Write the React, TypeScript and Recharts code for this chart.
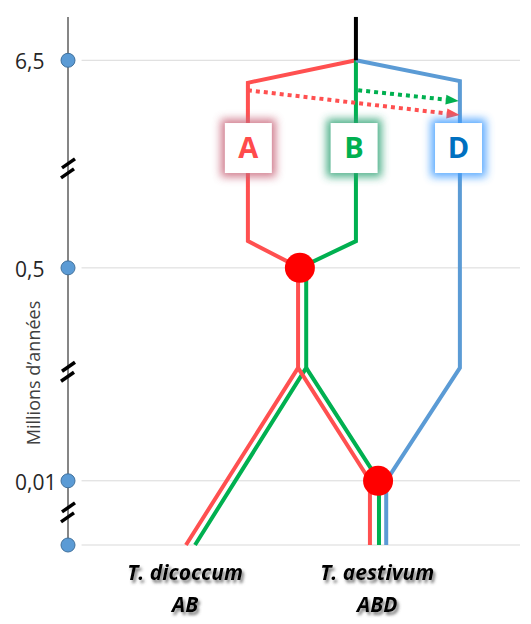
import { ComposedChart, Line, Scatter, XAxis, YAxis } from 'recharts';

// Vertical scale is broken, so ticks sit at drawing positions, not at true ages
const yTicks = [0, 12, 51.8, 90.6];
const yTickLabels = ['', '0,01', '0,5', '6,5'];
const axisBreaks = [70.3, 32.3, 6.0];

// Species at the tips of the tree
const speciesX = [25.9, 68.4];
const speciesNames = ['T. dicoccum', 'T. aestivum'];
const speciesGenomes = ['AB', 'ABD'];

// Branches of the tree (x = horizontal position, y = drawing height)
const rootStem = [
  { x: 63.7, y: 98.7 },
  { x: 63.7, y: 90.6 },
];
const genomeA = [
  { x: 63.7, y: 90.6 },
  { x: 39.8, y: 86.4 },
  { x: 39.8, y: 56.8 },
  { x: 51.3, y: 51.8 },
];
const genomeB = [
  { x: 63.7, y: 90.6 },
  { x: 63.7, y: 56.8 },
  { x: 51.3, y: 51.8 },
];
const genomeD = [
  { x: 63.7, y: 90.6 },
  { x: 86.7, y: 86.7 },
  { x: 86.7, y: 33.1 },
  { x: 70.4, y: 12 },
  { x: 70.4, y: 0 },
];
const tetraADicoccum = [
  { x: 50.9, y: 51.8 },
  { x: 50.9, y: 33.1 },
  { x: 26.1, y: 0 },
];
const tetraBDicoccum = [
  { x: 52.7, y: 51.8 },
  { x: 52.7, y: 33.1 },
  { x: 28.1, y: 0 },
];
const tetraAAestivum = [
  { x: 50.9, y: 33.1 },
  { x: 66.8, y: 12 },
  { x: 66.8, y: 0 },
];
const tetraBAestivum = [
  { x: 52.7, y: 33.1 },
  { x: 68.8, y: 12 },
  { x: 68.8, y: 0 },
];

// Gene transfers towards D (dotted arrows)
const transferA = [
  { x: 39.8, y: 85.0 },
  { x: 83.8, y: 80.65 },
];
const transferB = [
  { x: 64.2, y: 85.0 },
  { x: 83.6, y: 83.25 },
];

// Hybridisation events
const hybridisations = [
  { x: 51.3, y: 51.8 },
  { x: 68.6, y: 12 },
];

// Genome label boxes
const genomeLabels = ['A', 'B', 'D'];
const genomeBoxes = [
  { x: 39.9, y: 74.2 },
  { x: 63.3, y: 74.2 },
  { x: 86.4, y: 74.2 },
];

const axisLine = [
  { x: 0, y: 0 },
  { x: 0, y: 98.7 },
];
const axisDots = yTicks.map((y) => ({ x: 0, y }));
const breakPoints = axisBreaks.map((y) => ({ x: 0, y }));
const gridLines = yTicks.map((y) => [
  { x: 3, y },
  { x: 100, y },
]);

const RED = '#FF5050';
const GREEN = '#00B050';
const BLUE = '#5B9BD5';
const letterColors: Record<string, string> = { A: '#FF4B4B', B: '#00B050', D: '#0070C0' };
const glowColors: Record<string, string> = { A: '#c9687c', B: '#2fa374', D: '#3d9bff' };

const W = 531;
const H = 624;
const PX_X = 452 / 100;
const PX_Y = 535 / 100;
const FONT = "'Open Sans', sans-serif";

const makeArrow = (pts: { x: number; y: number }[], color: string) => {
  const a = pts[0];
  const b = pts[pts.length - 1];
  const angle = (Math.atan2((a.y - b.y) * PX_Y, (b.x - a.x) * PX_X) * 180) / Math.PI;
  return (props: any) => {
    const { cx, cy, index } = props;
    if (index !== pts.length - 1) return <g key={`d-${index}`} />;
    return (
      <polygon
        key={`d-${index}`}
        points="0,-5 13,0 0,5"
        fill={color}
        transform={`translate(${cx},${cy}) rotate(${angle})`}
      />
    );
  };
};

const YTick = (props: any) => {
  const { y, payload } = props;
  const label = yTickLabels[yTicks.indexOf(payload.value)];
  return (
    <text x={15} y={y + 9} fontSize={21} fill="#262626" fontFamily={FONT}>
      {label}
    </text>
  );
};

const XTick = (props: any) => {
  const { x, y, index } = props;
  const id = `txtsh-${index}`;
  const lines = [speciesNames[index], speciesGenomes[index]];
  const style = {
    fontSize: 21,
    fontWeight: 700,
    fontStyle: 'italic',
    fontFamily: FONT,
  };
  return (
    <g>
      <defs>
        <filter id={id} x="-20%" y="-50%" width="140%" height="200%">
          <feDropShadow dx="2" dy="3" stdDeviation="1.6" floodColor="#555" floodOpacity="0.75" />
        </filter>
      </defs>
      <text x={x} y={y + 35} textAnchor="middle" fill="#000" style={style} filter={`url(#${id})`}>
        {lines[0]}
      </text>
      <text x={x} y={y + 67} textAnchor="middle" fill="#000" style={style} filter={`url(#${id})`}>
        {lines[1]}
      </text>
    </g>
  );
};

const GenomeBox = (props: any) => {
  const { cx, cy, index } = props;
  const label = genomeLabels[index];
  const w = 47;
  const h = 50;
  const id = `glow-${label}`;
  return (
    <g>
      <defs>
        <filter id={id} x="-60%" y="-60%" width="220%" height="220%">
          <feGaussianBlur stdDeviation="4" />
        </filter>
      </defs>
      <rect
        x={cx - w / 2 - 4}
        y={cy - h / 2 - 4}
        width={w + 8}
        height={h + 8}
        fill={glowColors[label]}
        opacity={0.85}
        filter={`url(#${id})`}
      />
      <rect x={cx - w / 2} y={cy - h / 2} width={w} height={h} fill="#fff" />
      <text
        x={cx}
        y={cy + 10}
        textAnchor="middle"
        fontSize={29}
        fontWeight={700}
        fill={letterColors[label]}
        fontFamily={FONT}
      >
        {label}
      </text>
    </g>
  );
};

const HybridDot = (props: any) => <circle cx={props.cx} cy={props.cy} r={15} fill="#FF0000" />;

const AxisDot = (props: any) => (
  <circle cx={props.cx} cy={props.cy} r={7} fill="#5B9BD5" stroke="#41719C" strokeWidth={1} />
);

const BreakMark = (props: any) => {
  const { cx, cy } = props;
  return (
    <g stroke="#000" strokeWidth={3.5}>
      <line x1={cx - 6} y1={cy - 1} x2={cx + 7} y2={cy - 10} />
      <line x1={cx - 7} y1={cy + 9} x2={cx + 6} y2={cy} />
    </g>
  );
};

const YTitle = () => (
  <text
    x={0}
    y={0}
    transform="translate(40,373) rotate(-90)"
    textAnchor="middle"
    fontSize={18}
    fill="#404040"
    fontFamily={FONT}
  >
    Millions d’années
  </text>
);

const branch = (key: string, data: any[], color: string) => (
  <Line
    key={key}
    data={data}
    dataKey="y"
    type="linear"
    stroke={color}
    strokeWidth={4}
    dot={false}
    activeDot={false}
    isAnimationActive={false}
  />
);

export default function App() {
  return (
    <div style={{ position: 'absolute', left: 0, top: 0, width: W, height: H, background: '#fff' }}>
      <ComposedChart width={W} height={H} margin={{ top: 10, right: 11, bottom: 0, left: 8 }}>
        <XAxis
          type="number"
          dataKey="x"
          domain={[0, 100]}
          ticks={speciesX}
          interval={0}
          axisLine={false}
          tickLine={false}
          tickSize={0}
          tickMargin={0}
          height={79}
          tick={<XTick />}
        />
        <YAxis
          type="number"
          dataKey="y"
          domain={[0, 100]}
          ticks={yTicks}
          interval={0}
          axisLine={false}
          tickLine={false}
          width={60}
          tick={<YTick />}
          label={{ content: <YTitle /> }}
        />
        {gridLines.map((g, i) => (
          <Line
            key={`grid-${i}`}
            data={g}
            dataKey="y"
            stroke="#d9d9d9"
            strokeWidth={1}
            dot={false}
            activeDot={false}
            isAnimationActive={false}
          />
        ))}
        <Line
          data={axisLine}
          dataKey="y"
          stroke="#868686"
          strokeWidth={2}
          dot={false}
          activeDot={false}
          isAnimationActive={false}
        />
        {branch('a', genomeA, RED)}
        {branch('b', genomeB, GREEN)}
        {branch('d', genomeD, BLUE)}
        {branch('ad', tetraADicoccum, RED)}
        {branch('bd', tetraBDicoccum, GREEN)}
        {branch('aa', tetraAAestivum, RED)}
        {branch('ba', tetraBAestivum, GREEN)}
        {branch('root', rootStem, '#000')}
        <Line
          data={transferA}
          dataKey="y"
          stroke={RED}
          strokeWidth={4}
          strokeDasharray="4 4"
          dot={makeArrow(transferA, RED)}
          activeDot={false}
          isAnimationActive={false}
        />
        <Line
          data={transferB}
          dataKey="y"
          stroke={GREEN}
          strokeWidth={4}
          strokeDasharray="4 4"
          dot={makeArrow(transferB, GREEN)}
          activeDot={false}
          isAnimationActive={false}
        />
        <Scatter data={genomeBoxes} dataKey="y" shape={GenomeBox} isAnimationActive={false} />
        <Scatter data={hybridisations} dataKey="y" shape={HybridDot} isAnimationActive={false} />
        <Scatter data={axisDots} dataKey="y" shape={AxisDot} isAnimationActive={false} />
        <Scatter data={breakPoints} dataKey="y" shape={BreakMark} isAnimationActive={false} />
      </ComposedChart>
    </div>
  );
}
